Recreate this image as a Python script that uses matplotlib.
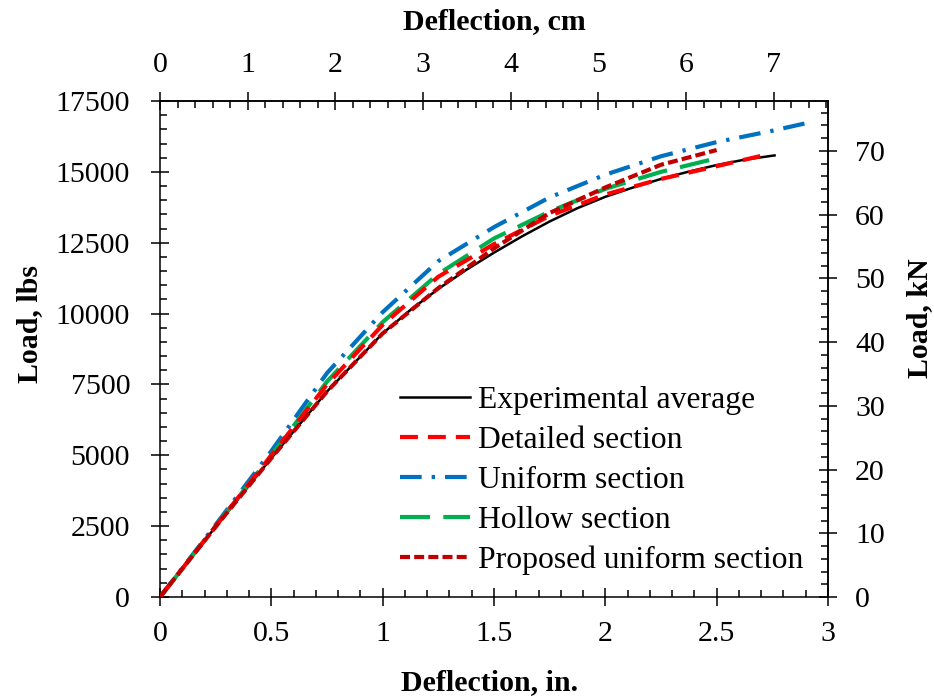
import matplotlib

matplotlib.use("Agg")
import matplotlib.pyplot as plt
from matplotlib.ticker import MultipleLocator

# load-deflection curves, deflection in inches, load in lbs
exp_defl = [0, 0.25, 0.5, 0.75, 1.0, 1.125, 1.25, 1.375, 1.5, 1.625, 1.75, 1.875,
            2.0, 2.125, 2.25, 2.375, 2.5, 2.625, 2.76]
exp_load = [0, 2480, 4900, 7250, 9300, 10130, 10870, 11540, 12150, 12720, 13250, 13720,
            14120, 14450, 14750, 15010, 15240, 15430, 15580]

detailed_defl = [0, 0.25, 0.5, 0.75, 1.0, 1.25, 1.5, 1.75, 2.0, 2.25, 2.5, 2.72]
detailed_load = [0, 2500, 5000, 7500, 9600, 11300, 12450, 13450, 14200, 14750, 15200, 15600]

uniform_defl = [0, 0.25, 0.5, 0.75, 1.0, 1.25, 1.5, 1.75, 2.0, 2.25, 2.5, 2.75, 2.92]
uniform_load = [0, 2550, 5150, 7900, 10050, 11850, 13050, 14100, 14900, 15550, 16050, 16450, 16750]

hollow_defl = [0, 0.25, 0.5, 0.75, 1.0, 1.25, 1.5, 1.75, 2.0, 2.25, 2.5]
hollow_load = [0, 2500, 5000, 7600, 9700, 11400, 12650, 13600, 14400, 15000, 15480]

proposed_defl = [0, 0.25, 0.5, 0.75, 1.0, 1.25, 1.5, 1.75, 2.0, 2.25, 2.5]
proposed_load = [0, 2480, 4900, 7250, 9300, 10900, 12300, 13550, 14450, 15250, 15770]

IN_TO_CM = 2.54
LB_TO_KN = 0.0044482

plt.rcParams["font.family"] = ["Liberation Serif", "DejaVu Serif"]
plt.rcParams["axes.linewidth"] = 1.1

W, H = 934, 700
fig = plt.figure(figsize=(W / 100, H / 100), dpi=100)
ax = fig.add_axes([160 / W, 103 / H, 668 / W, 496 / H])

lw = 3.0
ax.plot(exp_defl, exp_load, color="black", lw=1.8, label="Experimental average", zorder=3)
ax.plot(uniform_defl, uniform_load, color="#0070C0", lw=lw,
        dashes=(5.2, 2.4, 0.8, 2.4), label="Uniform section", zorder=4)
ax.plot(hollow_defl, hollow_load, color="#00B050", lw=lw,
        dashes=(7.2, 3.2), label="Hollow section", zorder=5)
ax.plot(detailed_defl, detailed_load, color="#FF0000", lw=lw,
        dashes=(4.3, 2.4), label="Detailed section", zorder=6)
ax.plot(proposed_defl, proposed_load, color="#C00000", lw=lw,
        dashes=(2.4, 1.0), label="Proposed uniform section", zorder=7)

ax.set_xlim(0, 3)
ax.set_ylim(0, 17500)
ax.xaxis.set_major_locator(MultipleLocator(0.5))
ax.xaxis.set_minor_locator(MultipleLocator(0.1))
ax.yaxis.set_major_locator(MultipleLocator(2500))
ax.yaxis.set_minor_locator(MultipleLocator(500))
ax.set_xticklabels([f"{v:g}" for v in ax.get_xticks()])

tick_major = dict(direction="inout", length=13, width=1.1, labelsize=21.5)
tick_minor = dict(direction="in", length=5, width=1.1)
ax.tick_params(axis="x", which="major", pad=11, **tick_major)
ax.tick_params(axis="y", which="major", pad=15, **tick_major)
ax.tick_params(which="minor", **tick_minor)

top = ax.secondary_xaxis("top", functions=(lambda x: x * IN_TO_CM, lambda x: x / IN_TO_CM))
top.xaxis.set_major_locator(MultipleLocator(1))
top.xaxis.set_minor_locator(MultipleLocator(0.2))
top.tick_params(which="major", pad=10, **tick_major)
top.tick_params(which="minor", **tick_minor)

right = ax.secondary_yaxis("right", functions=(lambda y: y * LB_TO_KN, lambda y: y / LB_TO_KN))
right.yaxis.set_major_locator(MultipleLocator(10))
right.yaxis.set_minor_locator(MultipleLocator(2))
right.tick_params(which="major", pad=13, **tick_major)
right.tick_params(which="minor", **tick_minor)

# axis titles placed by pixel centre
title_font = dict(fontsize=21.5, fontweight="bold", ha="center", va="center")
fig.text(490 / W, 1 - 683 / H, "Deflection, in.", **title_font)
fig.text(494 / W, 1 - 22 / H, "Deflection, cm", **title_font)
fig.text(30 / W, 1 - 324 / H, "Load, lbs", rotation=90, **title_font)
fig.text(920 / W, 1 - 318 / H, "Load, kN", rotation=90, **title_font)

handles, labels = ax.get_legend_handles_labels()
order = ["Experimental average", "Detailed section", "Uniform section",
         "Hollow section", "Proposed uniform section"]
hmap = dict(zip(labels, handles))
ax.legend([hmap[k] for k in order], order, loc="upper left",
          bbox_to_anchor=(400 / W, 1 - 386 / H), bbox_transform=fig.transFigure,
          frameon=False, fontsize=22.8, handlelength=2.2, handletextpad=0.25,
          labelspacing=0.34, borderpad=0, borderaxespad=0)

fig.savefig("out.png", dpi=100)
